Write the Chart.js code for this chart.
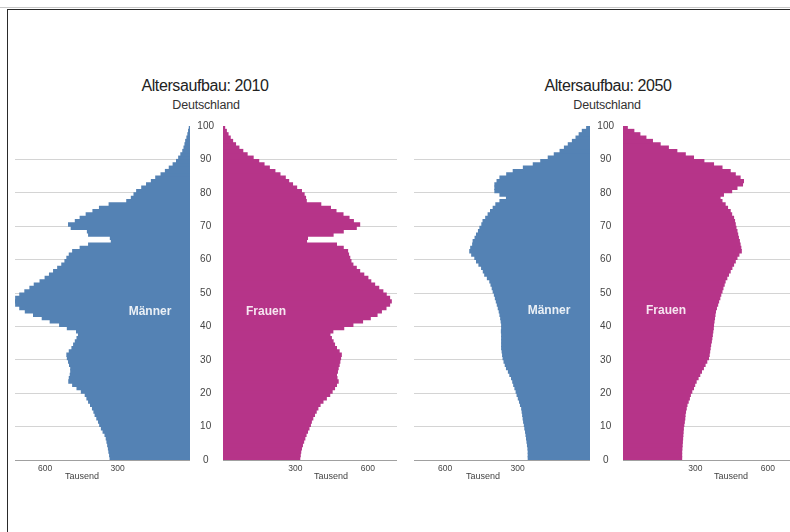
<!DOCTYPE html>
<html lang="de">
<head>
<meta charset="utf-8">
<title>Altersaufbau 2010 / 2050</title>
<script src="https://cdn.jsdelivr.net/npm/chart.js@4.4.1/dist/chart.umd.min.js"></script>
<style>
  html, body { margin: 0; padding: 0; background: #fff; }
  body { width: 790px; height: 532px; position: relative; overflow: hidden;
         font-family: "Liberation Sans", Arial, sans-serif; }
  .topline { position: absolute; left: 0; right: 0; top: 7px; height: 1px; background: #c8c8c8; }
  .frame { position: absolute; left: 7px; top: 9px; right: 0; bottom: 0;
           border-top: 1px solid #2a2a2a; border-left: 1px solid #2a2a2a; }
  canvas { position: absolute; }
  .lbl { position: absolute; transform: translate(-50%, -50%); white-space: nowrap; line-height: 1; }
  .title { font-size: 16px; letter-spacing: -0.4px; color: #222; }
  .sub { font-size: 12.5px; letter-spacing: -0.2px; color: #333; }
  .sex { font-size: 12px; font-weight: bold; color: rgba(255,255,255,0.88); }
  .unit { font-size: 9px; color: #444; }
</style>
</head>
<body>
<div class="topline"></div>
<div class="frame"></div>

<div class="lbl title" style="left:205px; top:86px;">Altersaufbau: 2010</div>
<div class="lbl sub" style="left:206px; top:105px;">Deutschland</div>
<div class="lbl title" style="left:608px; top:86px;">Altersaufbau: 2050</div>
<div class="lbl sub" style="left:607px; top:105px;">Deutschland</div>

<canvas id="m2010" width="175" height="367" style="left:15px; top:118px;"></canvas>
<canvas id="f2010" width="207" height="367" style="left:190px; top:118px;"></canvas>
<canvas id="m2050" width="176" height="367" style="left:414px; top:118px;"></canvas>
<canvas id="f2050" width="200" height="367" style="left:590px; top:118px;"></canvas>

<div class="lbl sex" style="left:150px; top:311px;">Männer</div>
<div class="lbl sex" style="left:266px; top:311px;">Frauen</div>
<div class="lbl sex" style="left:549px; top:310px;">Männer</div>
<div class="lbl sex" style="left:666px; top:310px;">Frauen</div>

<div class="lbl unit" style="left:82px; top:476px;">Tausend</div>
<div class="lbl unit" style="left:331px; top:476px;">Tausend</div>
<div class="lbl unit" style="left:483px; top:476px;">Tausend</div>
<div class="lbl unit" style="left:731px; top:476px;">Tausend</div>

<script>
/* Bevölkerung je Altersjahr 0..99, in Tausend */
const MAENNER_2010 = [
  331, 333, 336, 338, 341, 344, 347, 352, 360, 367,
  374, 379, 386, 393, 398, 404, 412, 420, 427, 434,
  450, 468, 486, 502, 500, 496, 494, 494, 499, 503,
  508, 510, 500, 489, 482, 475, 468, 462, 470, 508,
  540, 579, 612, 648, 682, 705, 722, 730, 722, 705,
  684, 663, 645, 621, 600, 582, 565, 548, 531, 518,
  510, 500, 486, 455, 420, 326, 330, 420, 425, 492,
  503, 475, 455, 430, 402, 375, 335, 262, 243, 232,
  221, 200, 180, 160, 142, 120, 102, 86, 70, 56,
  47, 38, 30, 25, 21, 18, 13, 9, 6, 3
];
const FRAUEN_2010 = [
  318, 320, 322, 325, 329, 334, 339, 344, 350, 356,
  362, 366, 372, 379, 386, 393, 402, 414, 428, 442,
  452, 462, 470, 477, 472, 470, 474, 477, 481, 484,
  487, 490, 481, 470, 462, 456, 449, 443, 455, 500,
  538, 578, 610, 638, 656, 675, 690, 697, 690, 676,
  662, 645, 628, 612, 600, 583, 566, 552, 538, 530,
  525, 520, 516, 498, 470, 346, 350, 456, 498, 552,
  566, 540, 522, 497, 468, 445, 405, 345, 342, 336,
  325, 305, 288, 272, 258, 236, 215, 192, 170, 148,
  125, 100, 82, 66, 52, 40, 30, 21, 14, 7
];
const MAENNER_2050 = [
  256, 256, 256, 257, 259, 261, 263, 265, 267, 270,
  272, 275, 277, 279, 281, 283, 288, 292, 297, 302,
  306, 311, 316, 320, 325, 332, 338, 346, 351, 356,
  360, 362, 364, 366, 366, 366, 366, 366, 367, 366,
  366, 368, 370, 373, 376, 380, 384, 388, 392, 396,
  401, 405, 410, 415, 425, 436, 442, 449, 460, 470,
  477, 490, 498, 494, 486, 484, 476, 470, 462, 456,
  448, 443, 432, 422, 412, 401, 390, 373, 346, 373,
  394, 394, 394, 385, 373, 345, 318, 276, 235, 204,
  173, 148, 124, 106, 90, 73, 58, 45, 32, 14
];
const FRAUEN_2050 = [
  243, 243, 243, 244, 245, 246, 247, 248, 249, 250,
  252, 254, 256, 257, 259, 262, 265, 270, 275, 279,
  285, 292, 297, 303, 311, 318, 325, 333, 340, 347,
  354, 357, 359, 361, 363, 366, 368, 370, 372, 374,
  375, 377, 379, 381, 383, 387, 392, 396, 401, 405,
  410, 414, 419, 423, 430, 437, 444, 451, 458, 465,
  472, 480, 490, 488, 485, 482, 478, 475, 472, 468,
  465, 462, 458, 450, 444, 433, 423, 410, 402, 416,
  450, 472, 495, 499, 485, 465, 444, 410, 375, 335,
  292, 258, 223, 188, 154, 122, 95, 70, 45, 18
];
const X_TICKS = [300, 600];
const AGE_MIN = 0, AGE_MAX = 100, AGE_STEP = 10;

const BLUE = '#5482b4';
const PINK = '#b63489';
const GRID = '#d4d4d4';
const PX_PER_K = 0.2415;   // Pixel je Tausend, in beiden Grafiken gleich
const AGE_AXIS_W = 33;     // Spalte mit den Altersangaben

Chart.defaults.font.family = '"Liberation Sans", Arial, sans-serif';

function halfPyramid(id, values, color, isMale) {
    const canvas = document.getElementById(id);
    const plotW = canvas.width - (isMale ? 0 : AGE_AXIS_W);
    return new Chart(canvas, {
        type: 'bar',
        data: {
            datasets: [{
                data: values.map((v, age) => ({ x: v, y: age + 0.5 })),
                backgroundColor: color,
                borderWidth: 0,
                inflateAmount: 0.5,
                barPercentage: 1,
                categoryPercentage: 1
            }]
        },
        options: {
            indexAxis: 'y',
            responsive: false,
            animation: false,
            layout: { padding: { top: 8, left: 0, right: 0, bottom: 0 } },
            plugins: { legend: { display: false }, tooltip: { enabled: false } },
            scales: {
                x: {
                    type: 'linear', reverse: isMale, min: 0, max: plotW / PX_PER_K,
                    grid: { display: false, drawTicks: false },
                    border: { display: true, color: '#a0a0a0', width: 1 },
                    afterBuildTicks: s => { s.ticks = X_TICKS.map(v => ({ value: v })); },
                    afterFit: s => { s.height = 25; },
                    ticks: { color: '#444', font: { size: 8.5 }, padding: 4, maxRotation: 0, autoSkip: false }
                },
                y: {
                    type: 'linear', min: AGE_MIN, max: AGE_MAX,
                    offset: false,
                    position: isMale ? 'right' : 'left',
                    // feste Spaltenbreite, keine Zusatzabstände oben/unten durch die Beschriftung
                    afterFit: s => {
                        s.width = isMale ? 0 : AGE_AXIS_W;
                        s.paddingTop = 0;
                        s.paddingBottom = 0;
                    },
                    grid: {
                        offset: false,
                        drawTicks: false,
                        color: c => (c.tick && c.tick.value === AGE_MAX) ? 'rgba(0,0,0,0)' : GRID
                    },
                    border: { display: false },
                    ticks: { display: !isMale, stepSize: AGE_STEP, crossAlign: 'center', padding: 9,
                             color: '#444', font: { size: 10 } }
                }
            }
        }
    });
}

halfPyramid('m2010', MAENNER_2010, BLUE, true);
halfPyramid('f2010', FRAUEN_2010, PINK, false);
halfPyramid('m2050', MAENNER_2050, BLUE, true);
halfPyramid('f2050', FRAUEN_2050, PINK, false);
</script>
</body>
</html>
